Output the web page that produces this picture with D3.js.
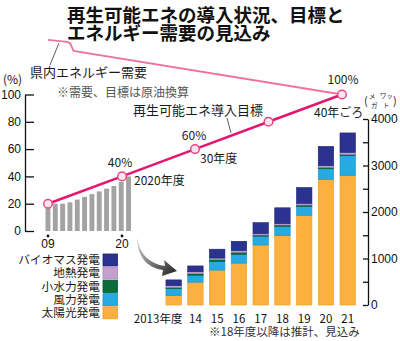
<!DOCTYPE html>
<html>
<head>
<meta charset="utf-8">
<script src="https://cdn.jsdelivr.net/npm/d3@7"></script>
<style>
body { margin: 0; background: #fff; }
svg { display: block; font-family: "Noto Sans CJK JP", "Noto Sans", sans-serif; }
</style>
</head>
<body>
<div id="chart"></div>
<script>
// share of renewables (%), gray bars
var grayYears = [2009, 2010, 2011, 2012, 2013, 2014, 2015, 2016, 2017, 2018, 2019, 2020];
var grayPct = [20, 20, 20, 21, 23, 25, 27, 29, 31, 33, 36, 40];

// target line
var targetYears = [2009, 2020, 2030, 2035, 2040];
var targetPct = [20, 40, 60, 80, 100];

// prefectural energy demand (relative, %)
var demandYears = [2009, 2011.8, 2012.3, 2012.8, 2040];
var demandPct = [140, 138.5, 137.5, 132, 100];

// installed capacity (MW)
var barYears = ["2013", "14", "15", "16", "17", "18", "19", "20", "21"];
var solar = [200, 490, 750, 900, 1290, 1490, 1925, 2700, 2780];
var wind = [150, 150, 185, 190, 190, 200, 195, 230, 430];
var hydro = [30, 35, 40, 45, 25, 30, 30, 30, 30];
var geo = [35, 40, 35, 35, 30, 30, 35, 35, 40];
var bio = [125, 125, 190, 200, 235, 340, 340, 415, 420];

var sources = ["太陽光発電", "風力発電", "小水力発電", "地熱発電", "バイオマス発電"];
var colors = ["#fbb03f", "#27aae1", "#0b6a3a", "#c3a0cf", "#2b3290"];
var borders = ["#f39c1e", "#1597cf", "#08562e", "#a982ba", "#1c2270"];

var pctTicks = [0, 20, 40, 60, 80, 100];
var mwTicks = [0, 500, 1000, 1500, 2000, 2500, 3000, 3500, 4000];

var w = 400, h = 341;
var svg = d3.select("#chart").append("svg").attr("width", w).attr("height", h);

var yPct = d3.scaleLinear().domain([0, 100]).range([231, 94.5]);
var xLine = d3.scaleLinear().domain([2009, 2020, 2030, 2040]).range([48, 122, 195, 342]);
var xGray = d3.scaleBand().domain(grayYears).range([45.5, 131]).paddingInner(0.33);
var xBar = d3.scaleBand().domain(barYears).range([162.8, 358.6]).paddingInner(0.29).paddingOuter(0.145);
var yMW = d3.scaleLinear().domain([0, 4000]).range([305, 119]);

// title
svg.append("text").attr("x", 67).attr("y", 21.5).text("再生可能エネの導入状況、目標と")
	.attr("font-size", "18.5px").attr("font-weight", "bold").attr("fill", "#111");
svg.append("text").attr("x", 67).attr("y", 40).text("エネルギー需要の見込み")
	.attr("font-size", "18.5px").attr("font-weight", "bold").attr("fill", "#111");

// gray bars
svg.selectAll("rect.gray")
	.data(grayYears)
	.enter()
	.append("rect")
	.attr("class", "gray")
	.attr("x", function(d) { return xGray(d); })
	.attr("y", function(d, i) { return yPct(grayPct[i]); })
	.attr("width", xGray.bandwidth())
	.attr("height", function(d, i) { return yPct(0) - yPct(grayPct[i]); })
	.attr("fill", "#a3a3a3");

// left axis
var leftAxis = d3.axisLeft(yPct).tickValues(pctTicks).tickSizeInner(-9).tickSizeOuter(0).tickPadding(4);
var gl = svg.append("g").attr("transform", "translate(25,0)").call(leftAxis);
gl.selectAll("path, line").attr("stroke", "#111").attr("stroke-width", 1.3);
gl.selectAll("text").attr("font-size", "12px").attr("fill", "#111").attr("font-family", "Liberation Sans, Arial, sans-serif");

svg.append("text").attr("x", 3).attr("y", 84).text("(%)").attr("font-size", "12px").attr("fill", "#111");

// left x ticks
var lineTicks = [[2009, "09"], [2020, "20"]];
lineTicks.forEach(function(t) {
	svg.append("circle").attr("cx", xLine(t[0])).attr("cy", 236).attr("r", 1.4).attr("fill", "#111");
	svg.append("text").attr("x", xLine(t[0])).attr("y", 248).text(t[1])
		.attr("text-anchor", "middle").attr("font-size", "12px").attr("fill", "#111")
		.attr("font-family", "Liberation Sans, Arial, sans-serif");
});

// demand line
var demandLine = d3.line()
	.x(function(d) { return xLine(d[0]); })
	.y(function(d) { return yPct(d[1]); });
svg.append("path")
	.attr("d", demandLine(demandYears.map(function(y, i) { return [y, demandPct[i]]; })))
	.attr("fill", "none").attr("stroke", "#f0729a").attr("stroke-width", 1.8);

// target line
svg.append("path")
	.attr("d", demandLine(targetYears.map(function(y, i) { return [y, targetPct[i]]; })))
	.attr("fill", "none").attr("stroke", "#e5166f").attr("stroke-width", 2.6);

svg.selectAll("circle.pt")
	.data(targetYears)
	.enter()
	.append("circle")
	.attr("class", "pt")
	.attr("cx", function(d) { return xLine(d); })
	.attr("cy", function(d, i) { return yPct(targetPct[i]); })
	.attr("r", 4.3)
	.attr("fill", "#fde6ee")
	.attr("stroke", "#ea4a84")
	.attr("stroke-width", 1.5);

// leader lines
svg.append("line").attr("x1", 50).attr("y1", 65).attr("x2", 59).attr("y2", 43).attr("stroke", "#333").attr("stroke-width", 0.8);
svg.append("line").attr("x1", 227).attr("y1", 118).attr("x2", 231).attr("y2", 133).attr("stroke", "#333").attr("stroke-width", 0.8);

function label(x, y, s, size, anchor, fill) {
	svg.append("text").attr("x", x).attr("y", y).text(s)
		.attr("font-size", size).attr("text-anchor", anchor || "start").attr("fill", fill || "#1a1a1a");
}
label(30, 77, "県内エネルギー需要", "13px");
label(57, 97, "※需要、目標は原油換算", "12px", "start", "#555");
label(133, 115, "再生可能エネ導入目標", "13px");
label(120, 167, "40%", "12px", "middle");
label(134, 185, "2020年度", "12px");
label(194, 140, "60%", "12px", "middle");
label(200, 163, "30年度", "12px");
label(343, 84, "100%", "12px", "middle");
label(314, 117, "40年ごろ", "12px");

// unit (megawatt)
label(364, 105, "(", "11px");
label(369, 99, "メ", "6.5px");
label(371, 108, "ガ", "6.5px");
label(380, 98, "ワッ", "6.5px");
label(383, 108, "ト", "6.5px");
label(393, 105, ")", "11px");

// stacked bars
var series = [solar, wind, hydro, geo, bio];
var rows = barYears.map(function(y, i) {
	var r = { year: y };
	sources.forEach(function(s, k) { r[s] = series[k][i]; });
	return r;
});
var stack = d3.stack().keys(sources)(rows);

svg.selectAll("g.layer")
	.data(stack)
	.enter()
	.append("g")
	.attr("class", "layer")
	.attr("fill", function(d, i) { return colors[i]; })
	.attr("stroke", function(d, i) { return borders[i]; })
	.attr("stroke-width", 0.6)
	.selectAll("rect")
	.data(function(d) { return d; })
	.enter()
	.append("rect")
	.attr("x", function(d) { return xBar(d.data.year); })
	.attr("y", function(d) { return yMW(d[1]); })
	.attr("width", xBar.bandwidth())
	.attr("height", function(d) { return yMW(d[0]) - yMW(d[1]); });

// right axis
var rightAxis = d3.axisRight(yMW).tickValues(mwTicks).tickSizeInner(-5).tickSizeOuter(0).tickPadding(3)
	.tickFormat(function(d) { return d % 1000 === 0 ? d : ""; });
var gr = svg.append("g").attr("transform", "translate(368,0)").call(rightAxis);
gr.selectAll("path, line").attr("stroke", "#111").attr("stroke-width", 1.3);
gr.selectAll("text").attr("font-size", "12px").attr("fill", "#111").attr("font-family", "Liberation Sans, Arial, sans-serif");

// bar x labels
svg.selectAll("text.yr")
	.data(barYears)
	.enter()
	.append("text")
	.attr("class", "yr")
	.attr("x", function(d, i) { return i === 0 ? xBar(d) + xBar.bandwidth() + 1 : xBar(d) + xBar.bandwidth() / 2; })
	.attr("y", 322.5)
	.attr("text-anchor", function(d, i) { return i === 0 ? "end" : "middle"; })
	.attr("font-size", "11.5px")
	.attr("fill", "#111")
	.text(function(d, i) { return i === 0 ? d + "年度" : d; });

label(209, 336, "※18年度以降は推計、見込み", "11.5px", "start", "#333");

// legend
var legendRows = sources.slice().reverse();
var legendColors = colors.slice().reverse();
var legendBorders = borders.slice().reverse();
legendRows.forEach(function(s, i) {
	var cy = 260 + i * 13.2;
	svg.append("rect").attr("x", 103).attr("y", cy - 6).attr("width", 14.5).attr("height", 12)
		.attr("fill", legendColors[i]).attr("stroke", legendBorders[i]).attr("stroke-width", 0.8);
	label(100, cy + 4.2, s, "11.7px", "end");
});

// arrow
var defs = svg.append("defs");
var grad = defs.append("linearGradient").attr("id", "ag").attr("x1", "0").attr("y1", "0").attr("x2", "1").attr("y2", "1");
grad.append("stop").attr("offset", "0").attr("stop-color", "#d8d8d8");
grad.append("stop").attr("offset", "1").attr("stop-color", "#1e1e1e");
svg.append("path")
	.attr("d", "M137,237 C139,254 150,264 165,266 L164,260 L177,271 L162,276 L163,270 C147,268 137,256 137,237 Z")
	.attr("fill", "url(#ag)");
</script>
</body>
</html>
